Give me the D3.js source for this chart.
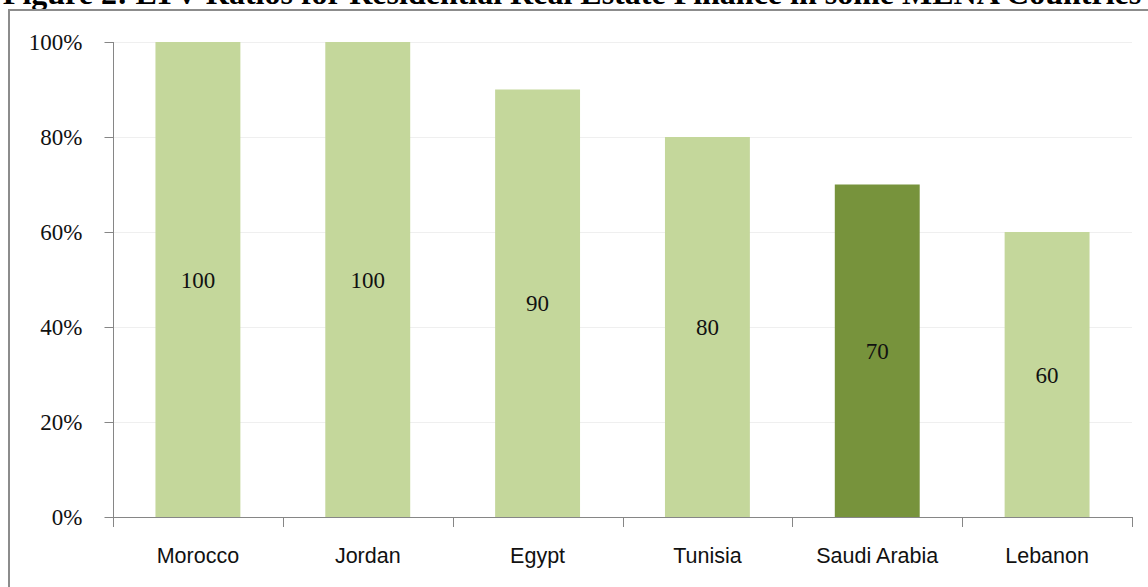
<!DOCTYPE html>
<html>
<head>
<meta charset="utf-8">
<script src="https://cdn.jsdelivr.net/npm/d3@7"></script>
<style>
  html, body { margin: 0; padding: 0; background: #fff; overflow: hidden; }
  svg { display: block; }
</style>
</head>
<body>
<div id="chart"></div>
<script>
var categories = ['Morocco', 'Jordan', 'Egypt', 'Tunisia', 'Saudi Arabia', 'Lebanon'];
var ltvValues = [100, 100, 90, 80, 70, 60];
var highlighted = ['Saudi Arabia'];
var yTicks = [0, 20, 40, 60, 80, 100];
var title = 'Figure 2: LTV Ratios for Residential Real Estate Finance in some MENA Countries';

var width = 1148, height = 587;
var margin = { top: 42, right: 16, bottom: 70, left: 113 };
var serif = '"Liberation Serif", "Times New Roman", serif';

var svg = d3.select('#chart').append('svg')
  .attr('width', width)
  .attr('height', height);

// title, mostly cut off by the top edge (as in the source image)
svg.append('text')
  .attr('x', 572)
  .attr('y', 4)
  .attr('text-anchor', 'middle')
  .style('font-family', serif)
  .style('font-weight', 'bold')
  .style('font-size', '32px')
  .text(title);

// outer frame
svg.append('path')
  .attr('d', 'M9,' + height + 'V10H' + width)
  .attr('fill', 'none')
  .attr('stroke', '#8c8c8c')
  .attr('stroke-width', 2);

var x = d3.scaleBand()
  .domain(categories)
  .range([margin.left, width - margin.right])
  .paddingInner(0.5)
  .paddingOuter(0.25);

var y = d3.scaleLinear()
  .domain([0, 100])
  .range([height - margin.bottom, margin.top]);

var plot = svg.append('g');

// gridlines
plot.append('g')
  .selectAll('line')
  .data(yTicks.filter(function(d) { return d > 0; }))
  .join('line')
  .attr('x1', margin.left)
  .attr('x2', width - margin.right)
  .attr('y1', function(d) { return y(d) + 0.5; })
  .attr('y2', function(d) { return y(d) + 0.5; })
  .attr('stroke', '#efefef')
  .attr('stroke-width', 1);

// bars
plot.append('g')
  .selectAll('rect')
  .data(categories)
  .join('rect')
  .attr('x', function(d) { return x(d); })
  .attr('y', function(d, i) { return y(ltvValues[i]); })
  .attr('width', x.bandwidth())
  .attr('height', function(d, i) { return y(0) - y(ltvValues[i]); })
  .attr('fill', function(d) {
    return highlighted.indexOf(d) >= 0 ? '#77933c' : '#c4d79b';
  });

// value labels
plot.append('g')
  .selectAll('text')
  .data(categories)
  .join('text')
  .attr('x', function(d) { return x(d) + x.bandwidth() / 2; })
  .attr('y', function(d, i) { return (y(ltvValues[i]) + y(0)) / 2; })
  .attr('dy', '0.35em')
  .attr('text-anchor', 'middle')
  .style('font-family', serif)
  .style('font-size', '23px')
  .style('fill', '#111')
  .text(function(d, i) { return ltvValues[i]; });

// y axis
var yAxis = svg.append('g')
  .attr('transform', 'translate(' + (margin.left + 0.5) + ',0)')
  .call(d3.axisLeft(y)
    .tickValues(yTicks)
    .tickSize(9)
    .tickPadding(22)
    .tickFormat(function(d) { return d + '%'; }));
yAxis.selectAll('path, line').attr('stroke', '#868686');
yAxis.select('.domain').attr('d', 'M0,' + y(0) + 'V' + y(100));
yAxis.selectAll('text')
  .style('font-family', serif)
  .style('font-size', '23px')
  .style('fill', '#111');

// x axis: ticks at category boundaries
var step = x.step();
var bounds = d3.range(categories.length + 1).map(function(i) {
  return margin.left + i * step;
});
var xAxis = svg.append('g');
xAxis.append('line')
  .attr('x1', margin.left)
  .attr('x2', bounds[bounds.length - 1])
  .attr('y1', y(0) + 0.5)
  .attr('y2', y(0) + 0.5)
  .attr('stroke', '#868686');
xAxis.selectAll('line.tick')
  .data(bounds)
  .join('line')
  .attr('class', 'tick')
  .attr('x1', function(d) { return Math.round(d) + 0.5; })
  .attr('x2', function(d) { return Math.round(d) + 0.5; })
  .attr('y1', y(0))
  .attr('y2', y(0) + 10)
  .attr('stroke', '#868686');
xAxis.selectAll('text')
  .data(categories)
  .join('text')
  .attr('x', function(d) { return x(d) + x.bandwidth() / 2; })
  .attr('y', 563)
  .attr('text-anchor', 'middle')
  .style('font-family', '"Liberation Sans", Arial, sans-serif')
  .style('font-size', '21.5px')
  .style('fill', '#111')
  .text(function(d) { return d; });
</script>
</body>
</html>
